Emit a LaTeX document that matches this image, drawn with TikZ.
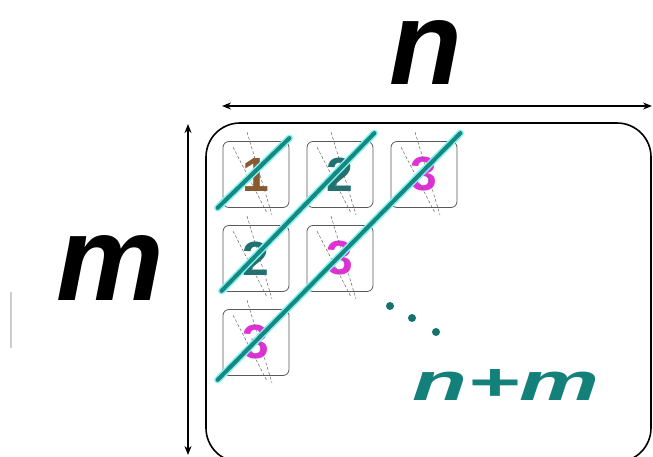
\documentclass[tikz,border=0pt]{standalone}
\usepackage{fontspec}
\setmainfont{Liberation Sans}[BoldFont={Liberation Sans Bold}, ItalicFont={Liberation Sans Italic}, BoldItalicFont={Liberation Sans Bold Italic}]
\usetikzlibrary{arrows.meta, positioning}
\definecolor{numbrown}{HTML}{8A5A2E}
\definecolor{numteal}{HTML}{1F7270}
\definecolor{nummagenta}{HTML}{E030D8}
\definecolor{diagteal}{HTML}{17877F}
\definecolor{diagglow}{HTML}{7FF2F2}
\definecolor{sumteal}{HTML}{13807A}

\begin{document}
\begin{tikzpicture}[
    x=1pt, y=-1pt,
    >=Stealth,
    arr/.style={{Stealth[length=9pt,width=7pt]}-{Stealth[length=9pt,width=7pt]}, line width=1.6pt},
    bigletter/.style={font=\fontsize{120}{120}\selectfont\bfseries\itshape, inner sep=0pt, anchor=base},
    board/.style={draw, line width=1.6pt, rounded corners=34pt},
    cell/.style={draw=black!65, line width=0.8pt, rounded corners=6pt,
        minimum size=66pt, inner sep=0pt,
        font=\fontsize{48}{48}\selectfont\bfseries},
    ghost/.style={densely dashed, line width=0.5pt, black!60},
    glow/.style={line width=7pt, diagglow, line cap=round},
    diag/.style={line width=4pt, diagteal, line cap=round},
    dot/.style={circle, fill=diagteal!85!black, minimum size=8pt, inner sep=0pt},
]
\useasboundingbox (0,0) rectangle (653,457);

% --- Labels n and m ---
\node[bigletter] (nlabel) at (426,85) {\resizebox{!}{64pt}{n}};
\node[bigletter] (mlabel) at (110,300) {\resizebox{!}{65pt}{m}};
\draw[black!20, line width=1.5pt] (11,292) -- (11,348);

% --- Dimension arrows ---
\coordinate (nleft) at (222,106);
\coordinate (nright) at (652,106);
\draw[arr] (nleft) -- (nright);
\coordinate (mtop) at (188,124);
\coordinate (mbottom) at (188,455);
\draw[arr] (mtop) -- (mbottom);

% --- Board ---
\node[board, minimum width=445pt, minimum height=339pt] (grid) at (428.5,292.5) {};

% --- Cells (row/column/number/colour) ---
\foreach \r/\c/\num/\col in {1/1/1/numbrown, 1/2/2/numteal, 1/3/3/nummagenta,
                             2/1/2/numteal, 2/2/3/nummagenta,
                             3/1/3/nummagenta} {
    \node[cell, text=\col] (cell\r\c) at ({256+84*(\c-1)}, {174.5+84*(\r-1)}) {\num};
    \draw[ghost] ([xshift=-9pt, yshift=9pt]cell\r\c.north) -- ([xshift=16pt, yshift=-7pt]cell\r\c.south);
    \draw[ghost] ([xshift=-23pt, yshift=-6pt]cell\r\c.north) -- ([xshift=11pt, yshift=-5pt]cell\r\c.south);
}

% --- Anti-diagonals ---
\coordinate (d1a) at ([xshift=-5pt]cell11.south west);
\coordinate (d1b) at ([yshift=3pt]cell11.north east);
\coordinate (d2a) at ([xshift=-1pt, yshift=1pt]cell21.south west);
\coordinate (d2b) at ([xshift=1pt, yshift=8pt]cell12.north east);
\coordinate (d3a) at ([xshift=-5pt, yshift=-4pt]cell31.south west);
\coordinate (d3b) at ([xshift=3pt, yshift=8pt]cell13.north east);
\foreach \d in {1,2,3} {
    \draw[glow] (d\d a) -- (d\d b);
    \draw[diag] (d\d a) -- (d\d b);
}

% --- Continuation dots and count ---
\node[dot] (dot1) at (390,306) {};
\node[dot] (dot2) at (412,318) {};
\node[dot] (dot3) at (436,332) {};
\node[font=\bfseries\itshape, text=sumteal, inner sep=0pt, anchor=base]
    (count) at (506,400) {\resizebox{187pt}{31pt}{n+m}};

\end{tikzpicture}
\end{document}
